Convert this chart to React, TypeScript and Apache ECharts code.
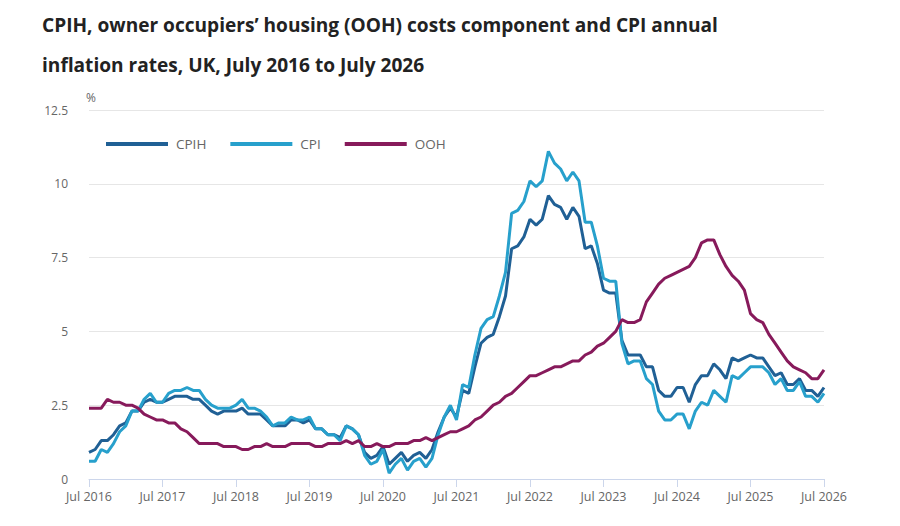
import { useEffect, useRef } from 'react';
import * as echarts from 'echarts';

// monthly, Jul 2016 .. Jul 2026
const firstYear = 2016;
const monthNames = ['Jul', 'Aug', 'Sep', 'Oct', 'Nov', 'Dec', 'Jan', 'Feb', 'Mar', 'Apr', 'May', 'Jun'];

const cpih = [
  0.9, 1.0, 1.3, 1.3, 1.5, 1.8,
  1.9, 2.3, 2.3, 2.6, 2.7, 2.6, 2.6, 2.7, 2.8, 2.8, 2.8, 2.7,
  2.7, 2.5, 2.3, 2.2, 2.3, 2.3, 2.3, 2.4, 2.2, 2.2, 2.2, 2.0,
  1.8, 1.8, 1.8, 2.0, 2.0, 1.9, 2.0, 1.7, 1.7, 1.5, 1.5, 1.4,
  1.8, 1.7, 1.5, 0.9, 0.7, 0.8, 1.1, 0.5, 0.7, 0.9, 0.6, 0.8,
  0.9, 0.7, 1.0, 1.6, 2.1, 2.4, 2.1, 3.0, 2.9, 3.8, 4.6, 4.8,
  4.9, 5.5, 6.2, 7.8, 7.9, 8.2, 8.8, 8.6, 8.8, 9.6, 9.3, 9.2,
  8.8, 9.2, 8.9, 7.8, 7.9, 7.3, 6.4, 6.3, 6.3, 4.7, 4.2, 4.2,
  4.2, 3.8, 3.8, 3.0, 2.8, 2.8, 3.1, 3.1, 2.6, 3.2, 3.5, 3.5,
  3.9, 3.7, 3.4, 4.1, 4.0, 4.1, 4.2, 4.1, 4.1, 3.8, 3.5, 3.6,
  3.2, 3.2, 3.4, 3.0, 3.0, 2.8, 3.1
];

const cpi = [
  0.6, 0.6, 1.0, 0.9, 1.2, 1.6,
  1.8, 2.3, 2.3, 2.7, 2.9, 2.6, 2.6, 2.9, 3.0, 3.0, 3.1, 3.0,
  3.0, 2.7, 2.5, 2.4, 2.4, 2.4, 2.5, 2.7, 2.4, 2.4, 2.3, 2.1,
  1.8, 1.9, 1.9, 2.1, 2.0, 2.0, 2.1, 1.7, 1.7, 1.5, 1.5, 1.3,
  1.8, 1.7, 1.5, 0.8, 0.5, 0.6, 1.0, 0.2, 0.5, 0.7, 0.3, 0.6,
  0.7, 0.4, 0.7, 1.5, 2.1, 2.5, 2.0, 3.2, 3.1, 4.2, 5.1, 5.4,
  5.5, 6.2, 7.0, 9.0, 9.1, 9.4, 10.1, 9.9, 10.1, 11.1, 10.7, 10.5,
  10.1, 10.4, 10.1, 8.7, 8.7, 7.9, 6.8, 6.7, 6.7, 4.6, 3.9, 4.0,
  4.0, 3.4, 3.2, 2.3, 2.0, 2.0, 2.2, 2.2, 1.7, 2.3, 2.6, 2.5,
  3.0, 2.8, 2.6, 3.5, 3.4, 3.6, 3.8, 3.8, 3.8, 3.6, 3.2, 3.4,
  3.0, 3.0, 3.3, 2.8, 2.8, 2.6, 2.9
];

const ooh = [
  2.4, 2.4, 2.4, 2.7, 2.6, 2.6,
  2.5, 2.5, 2.4, 2.2, 2.1, 2.0, 2.0, 1.9, 1.9, 1.7, 1.6, 1.4,
  1.2, 1.2, 1.2, 1.2, 1.1, 1.1, 1.1, 1.0, 1.0, 1.1, 1.1, 1.2,
  1.1, 1.1, 1.1, 1.2, 1.2, 1.2, 1.2, 1.1, 1.1, 1.2, 1.2, 1.2,
  1.3, 1.2, 1.3, 1.1, 1.1, 1.2, 1.1, 1.1, 1.2, 1.2, 1.2, 1.3,
  1.3, 1.4, 1.3, 1.4, 1.5, 1.6, 1.6, 1.7, 1.8, 2.0, 2.1, 2.3,
  2.5, 2.6, 2.8, 2.9, 3.1, 3.3, 3.5, 3.5, 3.6, 3.7, 3.8, 3.8,
  3.9, 4.0, 4.0, 4.2, 4.3, 4.5, 4.6, 4.8, 5.0, 5.4, 5.3, 5.3,
  5.4, 6.0, 6.3, 6.6, 6.8, 6.9, 7.0, 7.1, 7.2, 7.5, 8.0, 8.1,
  8.1, 7.6, 7.2, 6.9, 6.7, 6.4, 5.6, 5.4, 5.3, 4.9, 4.6, 4.3,
  4.0, 3.8, 3.7, 3.6, 3.4, 3.4, 3.7
];

const months = cpih.map((_, i) => {
  const year = firstYear + Math.floor((i + 6) / 12);
  return `${monthNames[i % 12]} ${year}`;
});

const font = "'Open Sans', sans-serif";
const isJuly = (i: number) => i % 12 === 0;

export default function App() {
  const chartRef = useRef<HTMLDivElement | null>(null);

  useEffect(() => {
    if (!chartRef.current) return;
    const chart = echarts.init(chartRef.current, null, { renderer: 'svg' });

    chart.setOption({
      animation: false,
      backgroundColor: '#ffffff',
      textStyle: { fontFamily: font },
      title: {
        text: 'CPIH, owner occupiers’ housing (OOH) costs component and CPI annual\ninflation rates, UK, July 2016 to July 2026',
        left: 37,
        top: 0,
        textStyle: {
          fontFamily: font,
          fontSize: 19.1,
          fontWeight: 'bold',
          color: '#222222',
          lineHeight: 40
        }
      },
      legend: {
        left: 106,
        top: 137,
        padding: 0,
        icon: 'rect',
        itemWidth: 62,
        itemHeight: 4,
        itemGap: 24,
        textStyle: { fontFamily: font, fontSize: 13.5, color: '#666666', padding: [0, 0, 0, 3] },
        data: ['CPIH', 'CPI', 'OOH']
      },
      graphic: [
        {
          type: 'text',
          left: 86,
          top: 91,
          style: { text: '%', fontFamily: font, fontSize: 12, fill: '#666666' }
        }
      ],
      grid: { left: 89, right: 76, top: 110, bottom: 47 },
      xAxis: {
        type: 'category',
        boundaryGap: false,
        data: months,
        axisLine: { lineStyle: { color: '#ccd6eb', width: 1 } },
        axisTick: { show: true, interval: isJuly, length: 8, lineStyle: { color: '#ccd6eb' } },
        axisLabel: { interval: isJuly, color: '#666666', fontSize: 12.5, margin: 11, fontFamily: font },
        splitLine: { show: false }
      },
      yAxis: {
        type: 'value',
        min: 0,
        max: 12.5,
        interval: 2.5,
        axisLine: { show: false },
        axisTick: { show: false },
        axisLabel: { color: '#666666', fontSize: 12, margin: 21, fontFamily: font },
        splitLine: { lineStyle: { color: '#e6e6e6', width: 1 } }
      },
      series: [
        {
          name: 'CPIH',
          type: 'line',
          data: cpih,
          symbol: 'none',
          color: '#206095',
          lineStyle: { width: 3, color: '#206095' }
        },
        {
          name: 'CPI',
          type: 'line',
          data: cpi,
          symbol: 'none',
          color: '#27a0cc',
          lineStyle: { width: 3, color: '#27a0cc' }
        },
        {
          name: 'OOH',
          type: 'line',
          data: ooh,
          symbol: 'none',
          color: '#871a5b',
          lineStyle: { width: 3, color: '#871a5b' }
        }
      ]
    });

    return () => {
      chart.dispose();
    };
  }, []);

  return (
    <div
      ref={chartRef}
      style={{ position: 'fixed', left: 0, top: 0, width: 900, height: 526, background: '#ffffff' }}
    />
  );
}
